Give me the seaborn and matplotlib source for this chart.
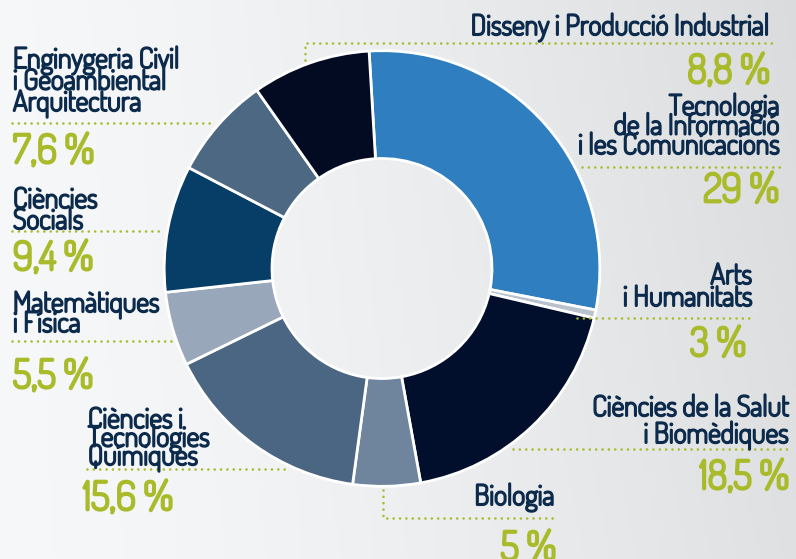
import numpy as np
import matplotlib
matplotlib.use("Agg")
import matplotlib.pyplot as plt
import matplotlib.patheffects as pe
import seaborn as sns

sns.set_theme(style="white")
plt.rcParams["font.family"] = ["Dosis", "Barlow Semi Condensed", "DejaVu Sans"]

# ==============================================
# DATA (slices clockwise from the top)
# ==============================================

fields = ["Tecnologia\nde la Informació\ni les Comunicacions",
          "Arts\ni Humanitats",
          "Ciències de la Salut\ni Biomèdiques",
          "Biologia",
          "Ciències i\nTecnologies\nQuímiques",
          "Matemàtiques\ni Física",
          "Ciències\nSocials",
          "Enginygeria Civil\ni Geoambiental\nArquitectura",
          "Disseny i Producció Industrial"]
pct_labels = ["29 %", "3 %", "18,5 %", "5 %", "15,6 %", "5,5 %", "9,4 %", "7,6 %", "8,8 %"]
# share each slice takes in the ring (Arts is drawn much thinner than its label says)
ring_shares = [29.0, 0.6, 18.5, 5.0, 15.6, 5.5, 9.4, 7.6, 8.8]
slice_colors = ["#2e7ec0", "#b9c2cc", "#010f2d", "#6f859e", "#4b6682",
                "#98a8ba", "#063e68", "#4d6883", "#020b22"]

NAVY = "#0c2b4c"
GREEN = "#a9bb2a"
W, H = 796, 559

fig = plt.figure(figsize=(W / 100, H / 100), dpi=100)

# background wash
ax_bg = fig.add_axes([0, 0, 1, 1], zorder=0)
gx = np.linspace(0, 1, 200)
gy = np.linspace(0, 1, 140)
GX, GY = np.meshgrid(gx, gy)
shade = 0.975 - 0.09 * GX ** 1.5 - 0.02 * (1 - GY) * GX
ax_bg.imshow(np.dstack([shade * 0.99, shade * 0.995, shade * 1.0]).clip(0, 1),
             extent=[0, W, H, 0], aspect="auto")
ax_bg.set_xlim(0, W)
ax_bg.set_ylim(H, 0)
ax_bg.axis("off")

# ==============================================
# DONUT
# ==============================================

cx, cy, r = 382, 268.5, 220
ax = fig.add_axes([(cx - r) / W, (H - cy - r) / H, 2 * r / W, 2 * r / H], zorder=1)
ax.pie(ring_shares, colors=slice_colors, startangle=93.4, counterclock=False,
       radius=1, wedgeprops=dict(width=0.495, edgecolor="white", linewidth=2))
ax.set_xlim(-1.01, 1.01)
ax.set_ylim(-1.01, 1.01)
ax.set_aspect("equal")
ax.axis("off")

# ==============================================
# LABELS
# ==============================================

ax_t = fig.add_axes([0, 0, 1, 1], zorder=2)
ax_t.set_xlim(0, W)
ax_t.set_ylim(H, 0)
ax_t.axis("off")
ax_t.patch.set_alpha(0)

# Dosis is only installed in a light weight, so thicken it with a stroke
bold_navy = [pe.withStroke(linewidth=1.5, foreground=NAVY)]
bold_green = [pe.withStroke(linewidth=2.0, foreground=GREEN)]


def dots(xs, ys):
    ax_t.plot(xs, ys, color=GREEN, lw=1.9, ls=(0, (0.01, 2.4)),
              dash_capstyle="round", solid_capstyle="round")


def label(i, x, first_base, step, ha, pct_x, pct_base):
    for k, line in enumerate(fields[i].split("\n")):
        ax_t.text(x, first_base + k * step, line, ha=ha, va="baseline",
                  fontsize=20.3, color=NAVY, path_effects=bold_navy)
    ax_t.text(pct_x, pct_base, pct_labels[i], ha=ha, va="baseline",
              fontsize=28.5, color=GREEN, path_effects=bold_green)


# Tecnologia de la Informació
label(0, 779, 115, 19.5, "right", 779, 202)
dots([582, 782], [167, 167])
# Arts
label(1, 752, 284, 22, "right", 746, 356)
dots([577, 753], [318, 318])
# Salut
label(2, 788, 416, 27, "right", 789, 489)
dots([513, 789], [449, 449])
# Biologia
label(3, 554, 505, 0, "right", 556, 560)
dots([383, 383, 555], [490, 518, 518])
# Químiques
label(4, 88, 428, 18.5, "left", 83, 510)
dots([87, 288], [469, 469])
# Matemàtiques
label(5, 13, 312, 20, "left", 13, 388)
dots([12, 172], [341, 341])
# Socials
label(6, 13, 208, 21, "left", 13, 270)
dots([12, 163], [231, 231])
# Civil
label(7, 13, 68, 21.5, "left", 13, 163)
dots([12, 213], [123, 123])
# Disseny
label(8, 768, 35, 0, "right", 770, 83)
dots([305, 305, 772], [60, 43, 43])

fig.savefig("out.png", dpi=100)
